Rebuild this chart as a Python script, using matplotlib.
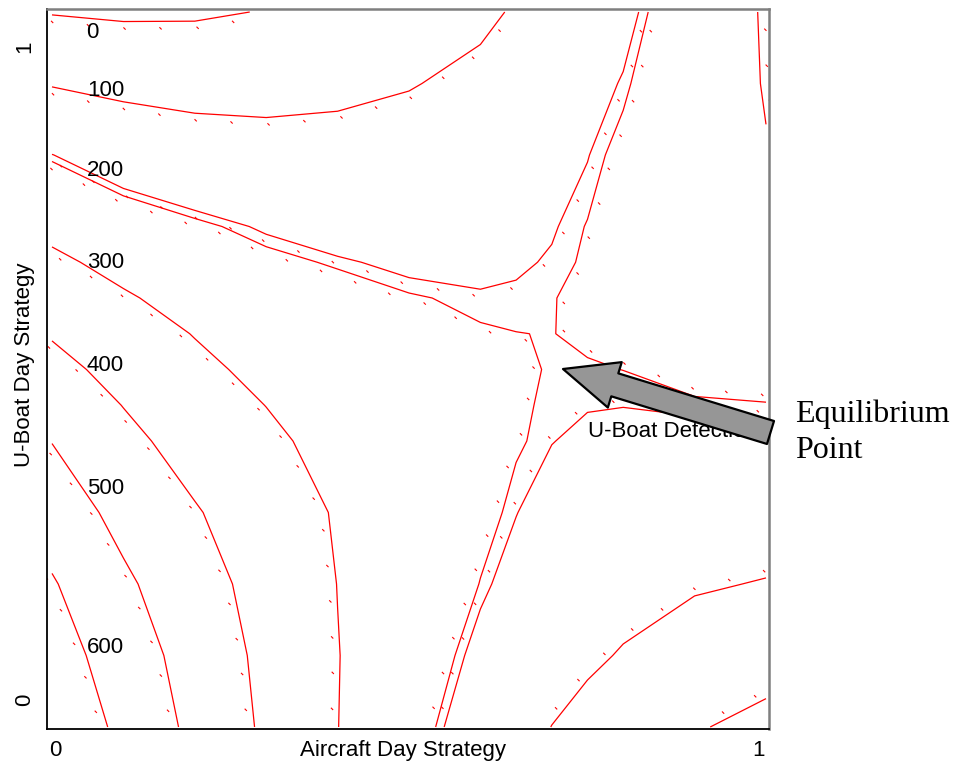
import numpy as np
import matplotlib
matplotlib.use("Agg")
import matplotlib.pyplot as plt
from matplotlib.collections import LineCollection
from matplotlib.patches import FancyArrowPatch, ArrowStyle

# ---------------- data ----------------
aircraft_day = [0.0, 0.1, 0.2, 0.3, 0.4, 0.5, 0.6, 0.65, 0.7, 0.75, 0.8, 0.9, 1.0]
uboat_day = [0.0, 0.1, 0.2, 0.3, 0.4, 0.45, 0.5, 0.55, 0.6, 0.65, 0.7, 0.8, 0.9, 1.0]
# U-boat detections: one row per U-boat day strategy value (bottom -> top)
detections = [
    [678, 578, 477, 385, 301, 233, 166, 133, 99, 77, 55, 7, -25],
    [645, 551, 461, 378, 302, 246, 187, 162, 135, 112, 95, 60, 38],
    [608, 516, 438, 366, 299, 253, 207, 185, 163, 140, 126, 108, 96],
    [554, 472, 407, 347, 293, 256, 219, 201, 182, 166, 156, 147, 143],
    [498, 424, 363, 318, 270, 253, 222, 211, 201, 192, 192, 190, 189],
    [463, 398, 341, 299, 261, 245.5, 220, 212, 204, 202, 200.5, 204.4, 206.5],
    [428, 370, 319, 279, 252, 238, 218, 212, 206.4, 206, 208.2, 219, 224],
    [393, 339.5, 297, 259, 238.5, 224, 210.5, 208.3, 207.5, 212, 214, 226.5, 236],
    [355, 309, 270, 239, 225, 210.6, 202.6, 203, 207, 214, 220, 234, 248],
    [316.5, 275, 243, 218, 204, 192, 192, 197, 202, 211, 221, 240.5, 260],
    [278, 241, 216, 195, 180, 173, 180, 190, 198, 209, 222, 247, 272],
    [201, 164, 145, 133, 130, 134, 150, 169, 188, 199, 217, 257, 297],
    [95, 78, 68, 70, 81, 96, 118, 144, 170, 186, 202.6, 253, 304],
    [-4, -12, -10, 3, 34, 62, 85, 107, 134, 160, 187, 247, 307],
]
contour_levels = [0, 100, 200, 208, 300, 400, 500, 600]
level_labels = ["0", "100", "200", "300", "400", "500", "600"]
label_x = [0.048, 0.049, 0.049, 0.049, 0.049, 0.049, 0.049]
label_y = [0.964, 0.8825, 0.7706, 0.642, 0.498, 0.326, 0.1035]
x_tick_pos = [0.004, 0.99]
y_tick_pos = [0.038, 0.952]
tick_labels = ["0", "1"]

# ---------------- figure ----------------
plt.rcParams["font.family"] = ["Liberation Sans", "DejaVu Sans"]
fig = plt.figure(figsize=(9.55, 7.67), dpi=100)
ax = fig.add_axes([47 / 955, 1 - 729 / 767, 722 / 955, 720 / 767])
ax.set_xlim(-5 / 714, 1 + 3 / 714)
ax.set_ylim(-2 / 715, 1 + 3 / 715)

X = np.array(aircraft_day, float)
Y = np.array(uboat_day, float)
Z = np.array(detections, float)

cs = ax.contour(X, Y, Z, levels=contour_levels, colors="#ff0000",
                linewidths=0.9, zorder=2)


def zval(px, py):
    i = int(np.clip(np.searchsorted(X, px) - 1, 0, len(X) - 2))
    j = int(np.clip(np.searchsorted(Y, py) - 1, 0, len(Y) - 2))
    tx = (px - X[i]) / (X[i + 1] - X[i])
    ty = (py - Y[j]) / (Y[j + 1] - Y[j])
    return (Z[j, i] * (1 - tx) * (1 - ty) + Z[j, i + 1] * tx * (1 - ty)
            + Z[j + 1, i] * (1 - tx) * ty + Z[j + 1, i + 1] * tx * ty)


# small uphill tick marks along contour lines
trans = ax.transData
inv = trans.inverted()
marks = []
for segs in cs.allsegs:
    for seg in segs:
        if len(seg) < 2:
            continue
        d = trans.transform(seg)
        steps = np.hypot(*np.diff(d, axis=0).T)
        cum = np.concatenate([[0.0], np.cumsum(steps)])
        total = cum[-1]
        s = 18.0
        while s < total:
            k = int(np.clip(np.searchsorted(cum, s) - 1, 0, len(steps) - 1))
            if steps[k] <= 0:
                s += 36
                continue
            f = (s - cum[k]) / steps[k]
            p = d[k] + f * (d[k + 1] - d[k])
            t = (d[k + 1] - d[k]) / steps[k]
            n = np.array([-t[1], t[0]])
            a = inv.transform(p + 3 * n)
            b = inv.transform(p - 3 * n)
            if zval(*a) < zval(*b):
                n = -n
            c = p + 7 * n
            marks.append(inv.transform(np.array([c + [-1.1, 1.1], c + [1.1, -1.1]])))
            s += 36
ax.add_collection(LineCollection(marks, colors="#ff0000", linewidths=0.8, zorder=2))

for txt, lx, ly in zip(level_labels, label_x, label_y):
    ax.text(lx, ly, txt, fontsize=16, ha="left", va="baseline", color="black", zorder=3)

ax.text(0.751, 0.4056, "U-Boat Detections", fontsize=16, ha="left", va="baseline",
        color="black", zorder=3, clip_on=True)

arrow = FancyArrowPatch((1.0063, 0.4119), (0.7157, 0.5007),
                        arrowstyle=ArrowStyle.Simple(head_length=3.9, head_width=3.42,
                                                     tail_width=1.73),
                        mutation_scale=10, shrinkA=0, shrinkB=0,
                        facecolor="#969696", edgecolor="black", linewidth=1.6,
                        zorder=6, clip_on=False)
ax.add_patch(arrow)

fig.text(795 / 955, 1 - 422 / 767, "Equilibrium", fontsize=23,
         family=["Liberation Serif", "DejaVu Serif"], ha="left", va="baseline")
fig.text(795 / 955, 1 - 458 / 767, "Point", fontsize=23,
         family=["Liberation Serif", "DejaVu Serif"], ha="left", va="baseline")

# axes styling
ax.set_xticks(x_tick_pos)
ax.set_xticklabels(tick_labels, fontsize=16)
ax.set_yticks(y_tick_pos)
ax.set_yticklabels(tick_labels, fontsize=16, rotation=90, va="center")
ax.tick_params(length=0)
ax.tick_params(axis="x", pad=8)
ax.tick_params(axis="y", pad=8.5)
ax.set_xlabel("Aircraft Day Strategy", fontsize=16)
ax.xaxis.set_label_coords(0.493, -0.0153)
ax.set_ylabel("U-Boat Day Strategy", fontsize=16)
ax.yaxis.set_label_coords(-0.0166, 0.506)
for side in ("left", "bottom"):
    ax.spines[side].set_color("black")
    ax.spines[side].set_linewidth(1.3)
for side in ("top", "right"):
    ax.spines[side].set_color("#7f7f7f")
    ax.spines[side].set_linewidth(1.8)

fig.savefig("out.png", dpi=100)
